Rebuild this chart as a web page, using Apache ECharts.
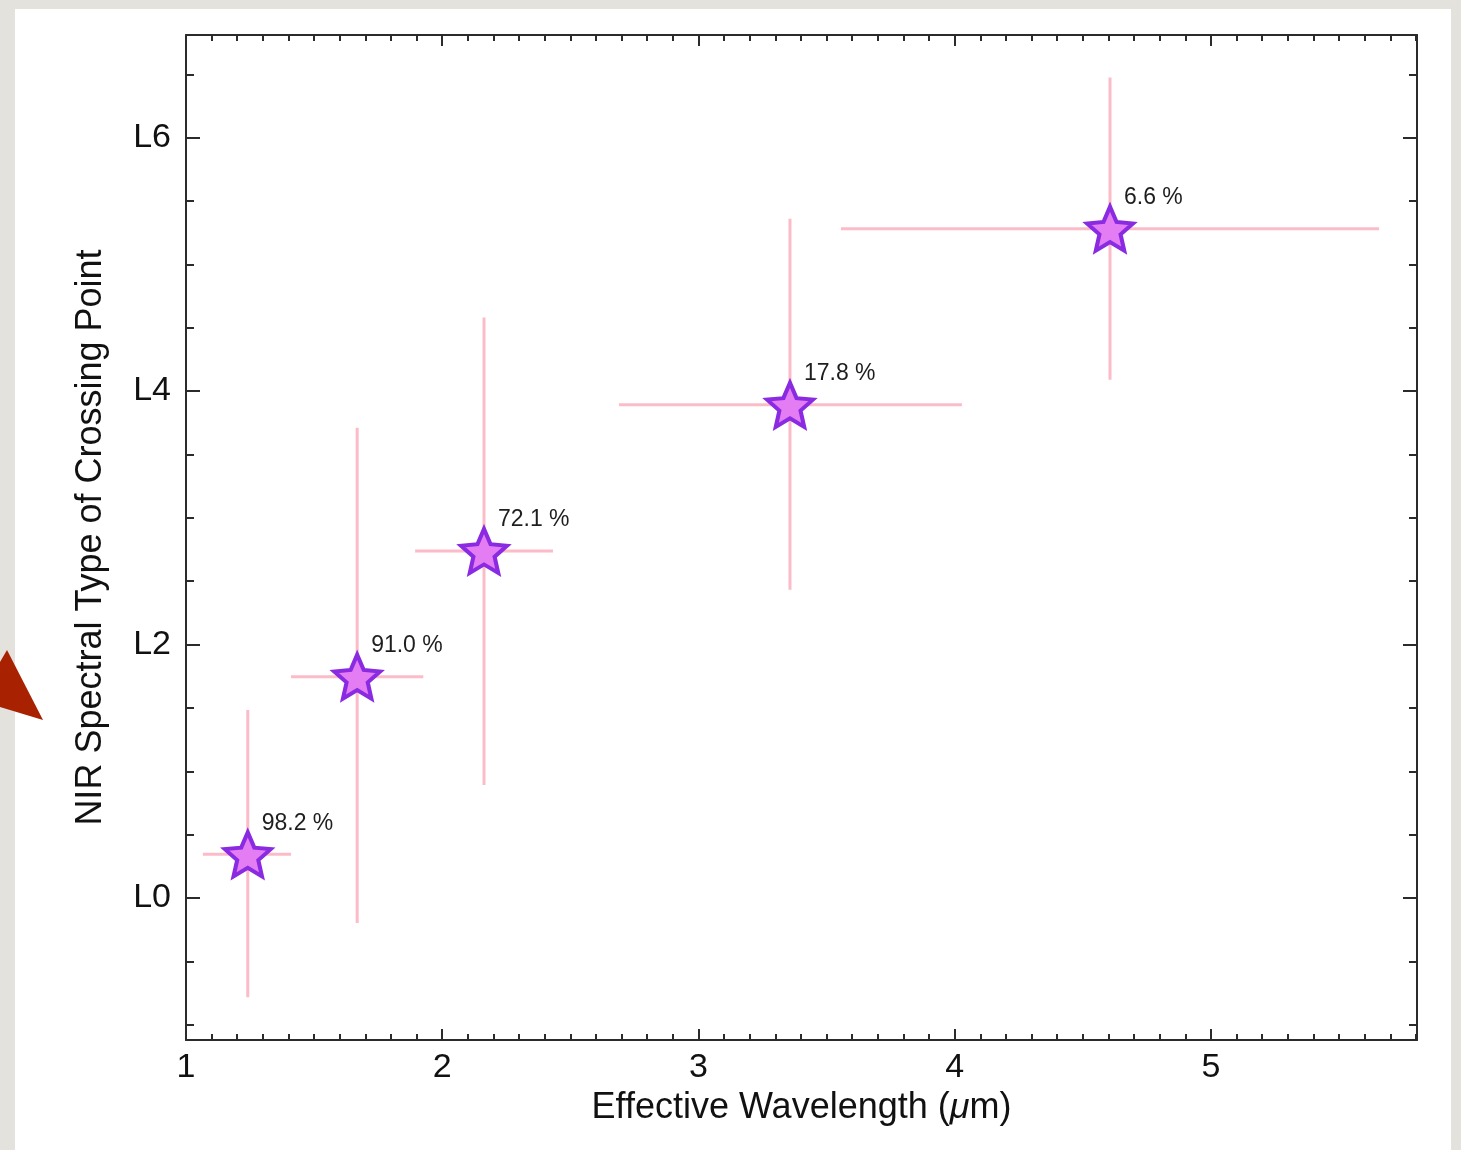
<!DOCTYPE html>
<html>
<head>
<meta charset="utf-8">
<script src="https://cdn.jsdelivr.net/npm/echarts@6/dist/echarts.min.js"></script>
<style>
  html, body { margin: 0; padding: 0; background: #e3e2dd; }
  #chart { width: 1461px; height: 1150px; }
</style>
</head>
<body>
<div id="chart"></div>
<script>
// Effective wavelength of each band (μm) and the spectral type where the sequences cross
const wavelength = [1.241, 1.668, 2.163, 3.357, 4.606];
const crossingType = [0.345, 1.747, 2.739, 3.892, 5.282];
// Horizontal extent (band width) and vertical uncertainty of each crossing point
const waveLow = [1.066, 1.410, 1.894, 2.690, 3.556];
const waveHigh = [1.410, 1.926, 2.432, 4.028, 5.656];
const typeLow = [-0.782, -0.197, 0.892, 2.432, 4.089];
const typeHigh = [1.484, 3.711, 4.581, 5.361, 6.474];
const fractionLabels = ['98.2 %', '91.0 %', '72.1 %', '17.8 %', '6.6 %'];

// Axis ranges and tick positions
const xRange = [1, 5.804];
const yRange = [-1.12, 6.81];
const xMajorTicks = [1, 2, 3, 4, 5];
const yMajorTicks = [0, 2, 4, 6];
const xMinorStep = 0.1;
const yMinorStep = 0.5;

function minorValues(range, step, majors) {
  const out = [];
  const start = Math.ceil(range[0] / step);
  const end = Math.floor(range[1] / step);
  for (let k = start; k <= end; k++) {
    const v = Math.round(k * step * 1000) / 1000;
    if (!majors.some(m => Math.abs(m - v) < 1e-9)) out.push(v);
  }
  return out;
}
const xMinorTicks = minorValues(xRange, xMinorStep, xMajorTicks);
const yMinorTicks = minorValues(yRange, yMinorStep, yMajorTicks);

// Five-pointed star outline used as the point marker
function starPath(inner) {
  const pts = [];
  for (let k = 0; k < 10; k++) {
    const r = k % 2 === 0 ? 1 : inner;
    const a = -Math.PI / 2 + k * Math.PI / 5;
    pts.push((r * Math.cos(a)).toFixed(4) + ' ' + (r * Math.sin(a)).toFixed(4));
  }
  return 'path://M' + pts.join(' L') + ' Z';
}

const FONT = "'Liberation Sans', Arial, Helvetica, sans-serif";
const AXIS_COLOR = '#2b2b2b';
const lineStyle = { color: AXIS_COLOR, width: 2 };

function makeX(position, ticks, len, showLabel, showLine) {
  return {
    type: 'value', position: position, min: xRange[0], max: xRange[1],
    gridIndex: 0,
    axisLine: { show: showLine, onZero: false, lineStyle: lineStyle },
    axisTick: { show: true, inside: true, length: len, customValues: ticks, lineStyle: lineStyle },
    axisLabel: showLabel ? {
      show: true, customValues: xMajorTicks, margin: 11,
      fontFamily: FONT, fontSize: 34, color: '#111'
    } : { show: false },
    splitLine: { show: false }, minorTick: { show: false }
  };
}
function makeY(position, ticks, len, showLabel, showLine) {
  return {
    type: 'value', position: position, min: yRange[0], max: yRange[1],
    gridIndex: 0,
    axisLine: { show: showLine, onZero: false, lineStyle: lineStyle },
    axisTick: { show: true, inside: true, length: len, customValues: ticks, lineStyle: lineStyle },
    axisLabel: showLabel ? {
      show: true, customValues: yMajorTicks, margin: 15,
      fontFamily: FONT, fontSize: 34, color: '#111',
      formatter: v => 'L' + v
    } : { show: false },
    splitLine: { show: false }, minorTick: { show: false }
  };
}

const xAxes = [
  makeX('bottom', xMajorTicks, 11, true, true),
  makeX('bottom', xMinorTicks, 6, false, false),
  makeX('top', xMajorTicks, 11, false, true),
  makeX('top', xMinorTicks, 6, false, false)
];
Object.assign(xAxes[0], {
  name: 'Effective Wavelength ({it|μ}m)',
  nameLocation: 'middle', nameGap: 46,
  nameTextStyle: {
    fontFamily: FONT, fontSize: 36, color: '#111',
    rich: { it: { fontFamily: FONT, fontSize: 36, fontStyle: 'italic', color: '#111' } }
  }
});
const yAxes = [
  makeY('left', yMajorTicks, 14, true, true),
  makeY('left', yMinorTicks, 8, false, false),
  makeY('right', yMajorTicks, 14, false, true),
  makeY('right', yMinorTicks, 8, false, false)
];
Object.assign(yAxes[0], {
  name: 'NIR Spectral Type of Crossing Point',
  nameLocation: 'middle', nameGap: 77,
  nameTextStyle: { fontFamily: FONT, fontSize: 36, color: '#111' }
});

const errorData = wavelength.map((w, i) => [w, crossingType[i], waveLow[i], waveHigh[i], typeLow[i], typeHigh[i]]);
const pointData = wavelength.map((w, i) => [w, crossingType[i]]);

const chart = echarts.init(document.getElementById('chart'), null, { renderer: 'canvas' });
chart.setOption({
  backgroundColor: 'transparent',
  animation: false,
  graphic: [
    {
      type: 'rect', z: -10, silent: true,
      shape: { x: 15, y: 9, width: 1436, height: 1150 },
      style: { fill: '#ffffff' }
    },
    {
      type: 'polygon', z: -5, silent: true,
      shape: { points: [[7, 650], [43, 720], [0, 707], [0, 662]] },
      style: { fill: '#a82100' }
    }
  ],
  grid: { left: 186, right: 44, top: 35, bottom: 110, containLabel: false },
  xAxis: xAxes,
  yAxis: yAxes,
  series: [
    {
      type: 'custom',
      xAxisIndex: 0, yAxisIndex: 0,
      z: 2,
      data: errorData,
      encode: { x: [0, 2, 3], y: [1, 4, 5] },
      renderItem: function (params, api) {
        const cx = api.value(0), cy = api.value(1);
        const left = api.coord([api.value(2), cy]);
        const right = api.coord([api.value(3), cy]);
        const bottom = api.coord([cx, api.value(4)]);
        const top = api.coord([cx, api.value(5)]);
        const style = { stroke: '#fbbcc8', lineWidth: 3 };
        return {
          type: 'group',
          children: [
            { type: 'line', shape: { x1: left[0], y1: left[1], x2: right[0], y2: right[1] }, style: style },
            { type: 'line', shape: { x1: bottom[0], y1: bottom[1], x2: top[0], y2: top[1] }, style: style }
          ]
        };
      }
    },
    {
      type: 'scatter',
      xAxisIndex: 0, yAxisIndex: 0,
      z: 3,
      data: pointData,
      symbol: starPath(0.46),
      symbolSize: [46, 44],
      itemStyle: { color: '#e47cf3', borderColor: '#8a2be2', borderWidth: 4, opacity: 1 },
      label: {
        show: true,
        position: [39, -7],
        align: 'left', verticalAlign: 'middle',
        fontFamily: FONT, fontSize: 23, color: '#1e1e1e',
        formatter: p => fractionLabels[p.dataIndex]
      }
    }
  ]
});
</script>
</body>
</html>
